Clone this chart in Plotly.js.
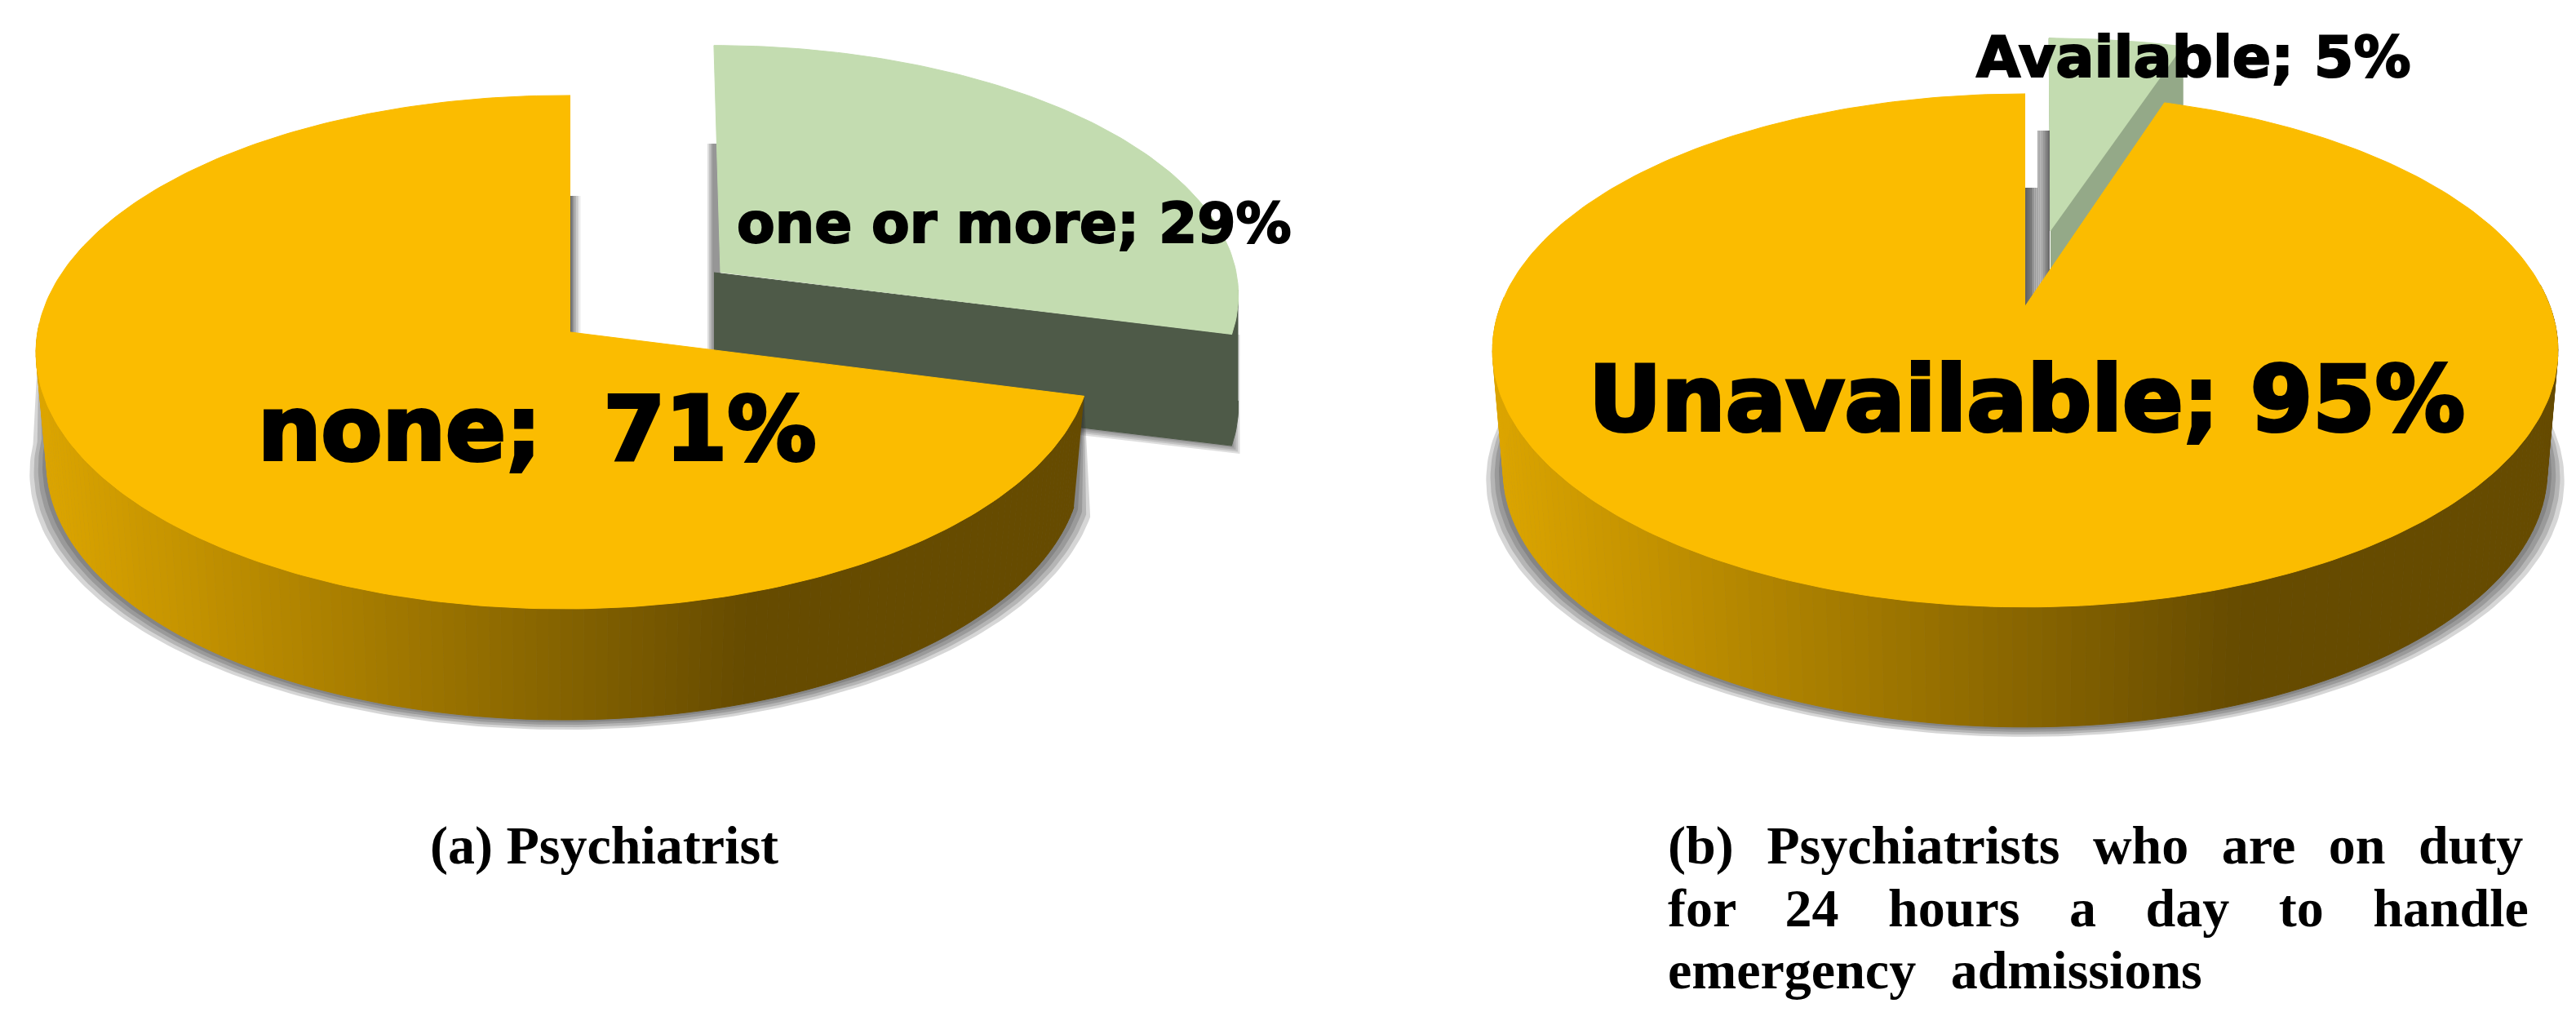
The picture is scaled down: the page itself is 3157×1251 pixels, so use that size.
<!DOCTYPE html>
<html>
<head>
<meta charset="utf-8">
<script src="https://cdn.plot.ly/plotly-3.0.1.min.js"></script>
<style>
html,body{margin:0;padding:0;background:#fff}
.annotation[data-index="0"] text{stroke:#000;stroke-width:4px}
.annotation[data-index="1"] text{stroke:#000;stroke-width:2px}
.annotation[data-index="2"] text{stroke:#000;stroke-width:4px}
.annotation[data-index="3"] text{stroke:#000;stroke-width:2px}
.annotation[data-index="4"] text{word-spacing:24px}
.annotation[data-index="5"] text{word-spacing:44px}
.annotation[data-index="6"] text{word-spacing:26px}
</style>
</head>
<body>
<div id="chart" style="width:3157px;height:1251px"></div>
<script>
const categoriesA = ['one or more', 'none'];
const valuesA = [29, 71];
const categoriesB = ['Available', 'Unavailable'];
const valuesB = [5, 95];
const captions = ['(a) Psychiatrist', '(b) Psychiatrists who are on duty', 'for 24 hours a day to handle', 'emergency admissions'];

const YELLOW = '#FBBC00', GREEN = '#C3DCB0';
const traces = [];
function poly(pts, color, lineW) {
  traces.push({type:'scatter', mode:'lines', x:pts.map(p=>p[0]), y:pts.map(p=>p[1]),
    fill:'toself', fillcolor:color, line:{color:color, width:lineW===undefined?0:lineW},
    hoverinfo:'skip', showlegend:false});
}
function project(g, deg, dz, shrink) {
  const t = deg*Math.PI/180, u = Math.sin(t), v = -Math.cos(t);
  const d = 1 - g.p*v + (g.q||0)*u;
  const X = g.b*u/d*(shrink||1), Y = g.a*v/d;
  return [g.cx + X + (g.shear||0)*Y, g.cy + Y + (dz||0)];
}
function arc(g, from, to, dz, shrink) {
  const out = [], n = Math.max(2, Math.ceil(Math.abs(to-from)));
  for (let i=0;i<=n;i++) out.push(project(g, from+(to-from)*i/n, dz, shrink));
  return out;
}
function mix(c1,c2,t){return 'rgb('+c1.map((c,i)=>Math.round(c+(c2[i]-c)*t)).join(',')+')';}
function wall(g, from, to, depth, left, gradEnd) {
  const shrink = 0.98;
  for (let k=4;k>=1;k--) {
    const top = arc(g, from, to, 0);
    const bot = arc(g, to, from, depth+k*3, shrink+k*0.008);
    poly(top.concat(bot), 'rgba(50,50,50,0.2)');
  }
  const n = 140;
  for (let i=0;i<n;i++) {
    const a1 = from+(to-from)*i/n, a2 = from+(to-from)*(i+1)/n;
    const p1 = project(g,a1,0), p2 = project(g,a2,0), p3 = project(g,a2,depth,shrink), p4 = project(g,a1,depth,shrink);
    const t = Math.max(0, Math.min(1, (((p1[0]+p2[0])/2)-left)/(gradEnd-left)));
    poly([p1,p2,p3,p4], mix([220,165,0],[102,75,0],t), 1);
  }
}
function stripes(x0,x1,y0,y1,c0,c1) {
  const n = Math.max(1,Math.round(Math.abs(x1-x0)/2));
  for (let i=0;i<n;i++) {
    const a = x0+(x1-x0)*i/n, b = x0+(x1-x0)*(i+1)/n;
    poly([[a,y0],[b,y0],[b,y1],[a,y1]], mix(c0,c1,(i+.5)/n));
  }
}

// ---- Pie (a)
const sweepA = valuesA[0]/(valuesA[0]+valuesA[1])*360;
const pieA = {cx:699, cy:407, a:312.6, b:645, p:0.0778, q:0.012};
const sliceA = {cx:883, cy:334, a:300, b:632, p:0.0778, shear:0.029};
const depthSliceA = 136;
// slice shadow
for (let k=4;k>=1;k--) {
  const e = project(sliceA, sweepA);
  poly([[e[0]-8,e[1]], [e[0]+k*2.5,e[1]], [e[0]+k*2.5,e[1]+depthSliceA+k*2.5], [sliceA.cx-8,sliceA.cy+depthSliceA+k*2.5]], 'rgba(50,50,50,0.16)');
  poly([[sliceA.cx-8-k*2,176],[sliceA.cx,176],[sliceA.cx,sliceA.cy+depthSliceA],[sliceA.cx-8-k*2,sliceA.cy+depthSliceA]], 'rgba(50,50,50,0.16)');
}
{
  const e = project(sliceA, sweepA);
  poly(arc(sliceA, 94, sweepA).concat(arc(sliceA, sweepA, 94, depthSliceA)), '#4E5A48', 1);
  poly([[sliceA.cx-8,sliceA.cy], e, [e[0],e[1]+depthSliceA], [sliceA.cx-8,sliceA.cy+depthSliceA]], '#4E5A48', 1);
}
poly([[sliceA.cx,sliceA.cy]].concat(arc(sliceA,0,sweepA)), GREEN, 1);
stripes(699,712,240,440,[90,90,90],[255,255,255]);
wall(pieA, sweepA, 272, 136, 46, 918);
poly([[pieA.cx,pieA.cy]].concat(arc(pieA,sweepA,360)), YELLOW, 1);

// ---- Pie (b)
const sweepB = valuesB[0]/(valuesB[0]+valuesB[1])*360;
const pieB = {cx:2482, cy:375, a:305, b:643, p:0.173};
const sliceB = {cx:2513, cy:283, a:277, b:618, p:0.173, shear:0.008};
{
  const e = project(sliceB, sweepB), s = project(sliceB, 0);
  poly([[sliceB.cx,sliceB.cy], s, e, [e[0],e[1]+135], [sliceB.cx,sliceB.cy+135]], '#94A988', 1);
}
poly([[sliceB.cx,sliceB.cy]].concat(arc(sliceB,0,sweepB)), GREEN, 1);
stripes(2497,2504,160,400,[170,170,170],[160,160,160]);
stripes(2504,2512,160,400,[160,160,160],[100,100,100]);
stripes(2482,2490,230,400,[95,95,95],[125,125,125]);
stripes(2490,2497,230,400,[125,125,125],[170,170,170]);
wall(pieB, 85, 272, 147, 1826, 2746);
poly([[pieB.cx,pieB.cy]].concat(arc(pieB,sweepB,360)), YELLOW, 1);

// ---- Text
const labelFont = s => ({family:'DejaVu Sans', size:s, color:'#000', weight:700});
const capFont = {family:'Liberation Serif', size:66, color:'#000', weight:700};
function note(text,x,y,font,xanchor){
  return {text:text,x:x,y:y,xref:'x',yref:'y',showarrow:false,font:font,xanchor:xanchor||'center',yanchor:'middle',align:'left'};
}
const annotations = [
  note(categoriesA[1]+';\u00A0 '+valuesA[1]+'%', 658, 525, labelFont(109)),
  note(categoriesA[0]+'; '+valuesA[0]+'%', 1243, 273, labelFont(68)),
  note(categoriesB[1]+'; '+valuesB[1]+'%', 2484, 489, labelFont(110)),
  note(categoriesB[0]+'; '+valuesB[0]+'%', 2688, 70, labelFont(70)),
  note(captions[1], 2042, 1036, capFont, 'left'),
  note(captions[2], 2042, 1112, capFont, 'left'),
  note(captions[3], 2042, 1188, capFont, 'left'),
  note(captions[0], 525, 1036, capFont, 'left')
];
const layout = {
  width:3157, height:1251, margin:{l:0,r:0,t:0,b:0,pad:0},
  paper_bgcolor:'#fff', plot_bgcolor:'#fff', showlegend:false,
  xaxis:{range:[0,3157], visible:false, fixedrange:true},
  yaxis:{range:[1251,0], visible:false, fixedrange:true},
  annotations:annotations
};
Plotly.newPlot('chart', traces, layout, {displayModeBar:false, staticPlot:true});
</script>
</body>
</html>
